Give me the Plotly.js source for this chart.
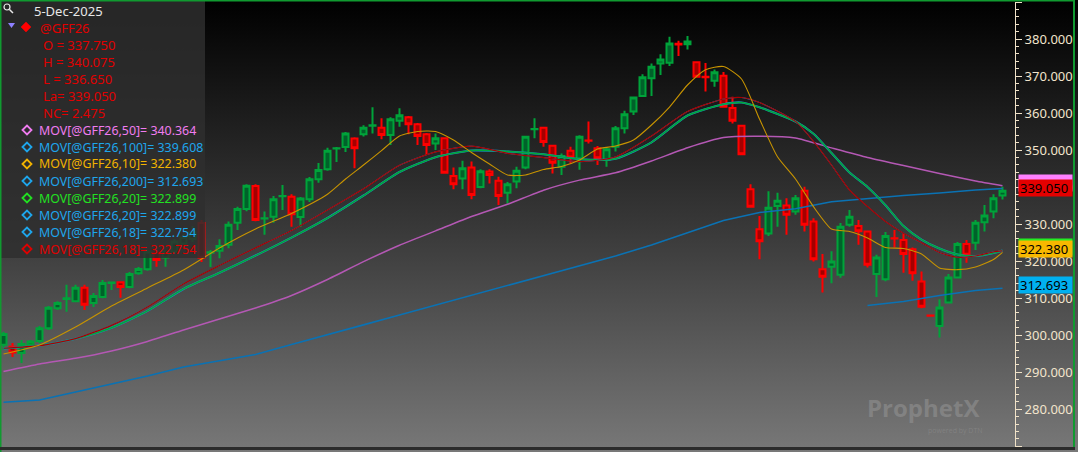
<!DOCTYPE html>
<html><head><meta charset="utf-8">
<script src="https://cdn.plot.ly/plotly-3.0.1.min.js"></script>
<style>
html,body{margin:0;padding:0;width:1078px;height:452px;overflow:hidden;background:linear-gradient(to bottom,#000000 0%,#383838 50%,#787878 100%);}
#chart{width:1078px;height:452px;}
</style></head><body><div id="chart"></div>
<script>
// ---- OHLC data (@GFF26, daily) ----
const open  = [297.4,296.9,295.2,297.4,298.4,301.9,307.3,309.8,309.2,312.8,308.7,310.3,314.1,314.3,313.0,316.7,317.8,322.3,321.0,322.6,324.8,326.0,330.3,322.3,322.8,324.4,330.4,334.1,340.3,331.5,332.0,337.5,337.4,331.9,336.7,342.1,344.8,350.4,350.8,353.1,354.3,356.6,356.0,354.1,357.9,358.9,357.0,354.3,351.8,353.2,343.0,342.3,345.3,340.0,344.2,341.7,338.5,341.5,345.3,355.6,356.0,351.2,345.5,349.8,347.7,352.6,350.5,347.3,350.9,355.9,360.4,364.6,369.4,373.4,373.6,378.7,378.6,373.7,369.8,368.7,370.1,361.4,356.6,339.4,328.6,327.5,334.9,335.0,333.4,339.0,330.7,317.8,318.5,316.3,329.8,329.5,328.0,316.5,315.1,326.2,325.7,323.2,314.5,305.3,302.5,308.8,315.6,324.6,325.0,330.5,333.4,337.75];
const high  = [300.9,297.9,298.7,298.7,302.5,307.9,309.2,313.6,313.6,313.6,311.4,314.9,314.4,314.6,317.1,318.4,323.0,322.7,323.0,326.0,327.5,329.5,331.1,323.0,325.9,330.7,334.7,340.8,340.8,333.4,337.6,340.6,338.1,337.3,342.7,346.5,350.6,350.8,354.9,353.5,356.7,361.6,358.6,358.9,361.3,359.2,357.3,354.6,354.5,353.5,345.3,347.1,346.9,344.8,344.8,342.8,341.4,345.5,353.8,358.6,356.3,351.4,349.1,350.9,354.0,357.7,351.1,350.8,356.5,360.6,364.3,370.5,373.4,375.9,380.6,379.5,380.8,373.8,373.5,371.8,371.1,364.4,356.8,340.8,332.2,338.9,338.5,337.0,337.9,340.1,331.6,321.9,322.7,330.3,333.8,331.1,328.2,321.7,327.9,328.4,327.5,323.7,317.2,305.35,309.7,316.5,325.2,325.7,331.1,335.2,338.1,340.075];
const low   = [296.0,294.1,292.5,296.8,297.9,301.4,306.8,306.3,309.0,306.8,307.6,310.0,312.2,310.1,312.7,316.3,317.4,318.5,318.5,322.2,324.2,325.2,319.8,318.4,320.8,323.5,328.4,333.5,330.8,327.1,330.4,333.8,329.3,329.2,336.0,341.2,344.4,346.8,349.5,345.1,353.7,354.5,352.9,351.4,356.3,354.3,351.4,348.7,350.0,343.6,339.4,339.4,336.7,339.7,341.0,335.2,335.6,339.7,344.8,353.2,350.9,343.7,343.3,346.4,344.7,351.8,346.0,345.5,349.6,354.5,359.5,364.6,364.6,370.3,372.7,375.4,377.2,369.7,365.8,367.1,361.6,357.2,348.7,334.6,320.5,326.8,329.3,327.1,332.5,328.0,319.9,311.5,314.0,315.5,329.3,324.4,318.3,310.3,314.6,323.7,316.9,314.7,307.3,305.2,299.4,308.6,315.4,319.6,323.0,328.0,331.6,336.65];
const close = [300.3,295.3,297.6,298.3,301.9,307.4,308.7,310.0,312.8,308.2,310.6,314.1,314.2,313.0,316.5,317.9,322.6,320.3,322.6,325.3,326.5,327.8,320.9,322.4,324.1,329.8,334.1,340.4,331.1,331.6,336.7,337.6,332.7,336.9,342.1,344.6,349.8,350.5,354.5,350.5,356.0,356.7,354.1,358.3,359.4,357.0,353.8,351.4,353.2,343.9,340.8,345.1,337.9,344.3,343.3,337.6,340.8,344.4,353.6,355.7,352.2,346.6,348.4,348.0,353.6,352.5,347.8,350.2,355.9,359.7,364.2,369.7,372.5,374.5,378.8,378.5,379.3,369.8,369.7,371.0,361.7,357.9,348.9,334.7,325.4,334.4,336.3,332.5,337.0,329.8,320.5,315.8,319.9,329.3,332.0,328.1,319.0,321.0,326.8,326.1,321.9,316.7,307.7,305.25,307.5,315.6,324.6,321.7,330.4,332.3,337.0,339.05];
const netChange = 2.475;

// ---- Moving averages (bar index, value) ----
const ma10Idx = [0,4,8,12,16,20,24,28,32,36,38,40,42,44,46,48,50,52,54,56,58,60,62,64,66,68,70,72,74,76,78,80,82,84,86,88,90,92,94,96,98,100,102,104,106,108,110,111];
const ma10 = [294.93,297.37,302.22,307.90,312.76,317.62,323.56,328.69,332.88,338.08,342.19,345.97,349.86,353.80,355.02,355.02,352.72,349.35,346.24,343.27,343.27,344.76,345.57,347.32,350.29,351.10,352.72,356.77,361.63,367.58,371.71,372.57,369.20,358.39,348.19,342.19,334.71,328.69,328.02,326.26,323.69,323.42,321.94,318.16,317.70,318.43,320.45,322.380];
const ma18Idx = [0,4,8,12,16,20,24,28,32,36,40,44,48,52,56,60,64,68,72,76,80,82,84,88,90,92,94,96,98,100,102,104,106,108,110,111];
const ma18 = [296.47,297.17,299.06,302.66,307.62,313.84,318.83,323.58,328.26,333.82,339.54,345.89,349.51,351.05,349.13,347.98,346.86,348.13,353.80,360.42,363.79,364.20,362.85,357.75,352.35,345.97,339.22,334.77,330.72,327.53,324.96,322.32,321.05,321.40,322.48,322.754];
const ma20 = [296.42,297.23,299.06,302.01,306.55,312.49,316.86,321.51,326.37,331.66,337.73,344.08,348.08,349.89,349.62,348.86,347.54,347.67,352.10,359.34,362.39,362.85,361.55,357.72,354.40,349.21,343.95,340.03,335.09,329.47,325.83,323.42,321.80,321.40,322.21,322.899];
const slowIdx = [0,4,8,12,16,20,24,28,32,36,40,44,48,52,56,60,64,68,72,76,80,84,88,92,96,100,104,108,111];
const ma50 = [290.21,292.23,293.77,295.74,298.31,301.41,304.38,307.36,310.73,315.05,319.86,324.31,328.17,332.07,335.36,339.17,341.89,343.86,347.05,350.64,353.40,353.75,353.26,350.59,348.00,345.84,343.68,341.65,340.364];
const ma100 = [281.89,282.51,284.67,286.83,288.99,291.42,293.04,294.80,297.47,300.06,302.79,305.47,308.11,310.78,313.43,316.10,318.75,321.40,324.37,327.75,330.99,333.14,334.17,336.06,336.93,337.73,338.41,339.22,339.608];
const ma200Idx = [96,100,104,108,111];
const ma200 = [308.03,309.11,310.73,312.08,312.693];

const bar = open.map((_, i) => i);
const last = open.length - 1;

const RED = '#e00000', PINK = '#f07cf0', BLUE = '#1ea6ec', ORANGE = '#f2b300', GREEN = '#22e022';
const FONT = 'Noto Sans, sans-serif';

const traces = [
  {type:'scatter', mode:'lines', x:slowIdx, y:ma100, line:{color:'#0a72b4', width:1.6}, hoverinfo:'skip'},
  {type:'scatter', mode:'lines', x:ma200Idx, y:ma200, line:{color:'#0a72b4', width:1.6}, hoverinfo:'skip'},
  {type:'scatter', mode:'lines', x:slowIdx, y:ma50, line:{color:'#b458b4', width:1.5, shape:'spline', smoothing:0.5}, hoverinfo:'skip'},
  {type:'scatter', mode:'lines', x:ma18Idx, y:ma20, line:{color:'#1a8ad0', width:2.1, shape:'spline', smoothing:0.6}, hoverinfo:'skip'},
  {type:'scatter', mode:'lines', x:ma18Idx, y:ma20, line:{color:'#00a838', width:1.5, shape:'spline', smoothing:0.6}, hoverinfo:'skip'},
  {type:'scatter', mode:'lines', x:ma18Idx, y:ma18, line:{color:'#1a8ad0', width:1, shape:'spline', smoothing:0.6}, hoverinfo:'skip'},
  {type:'scatter', mode:'lines', x:ma18Idx, y:ma18, line:{color:'#a80000', width:1.2, shape:'spline', smoothing:0.6}, hoverinfo:'skip'},
  {type:'scatter', mode:'lines', x:ma10Idx, y:ma10, line:{color:'#c89400', width:1.1, shape:'spline', smoothing:0.6}, hoverinfo:'skip'},
  {type:'candlestick', x:bar, open:open, high:high, low:low, close:close,
   increasing:{line:{color:'#00a33a', width:2}, fillcolor:'#00622a'},
   decreasing:{line:{color:'#ff0000', width:2}, fillcolor:'#a40000'},
   whiskerwidth:0, hoverinfo:'skip'}
];

// pixel helpers (plot area: x 0..1015, y 2..447)
const PW = 1015, PT = 2, PH = 445;
const px = x => x / PW;
const py = y => 1 - (y - PT) / PH;

const annotations = [];
const shapes = [];
function txt(x, y, text, color, size, extra) {
  annotations.push(Object.assign({xref:'paper', yref:'paper', x:px(x), y:py(y), xanchor:'left', yanchor:'middle',
    text:text, showarrow:false, font:{family:FONT, size:size||13, color:color}}, extra||{}));
}
function diamond(cx, cy, r, color, filled) {
  const p = `M ${px(cx-r)} ${py(cy)} L ${px(cx)} ${py(cy-r)} L ${px(cx+r)} ${py(cy)} L ${px(cx)} ${py(cy+r)} Z`;
  shapes.push({type:'path', xref:'paper', yref:'paper', path:p, layer:'above',
    line:{color:color, width:filled?0.5:1.8}, fillcolor: filled ? color : 'rgba(0,0,0,0)'});
}

// legend panel
shapes.push({type:'rect', xref:'paper', yref:'paper', x0:px(-2), x1:px(205), y0:py(258), y1:py(-1), layer:'above',
  line:{width:0}, fillcolor:'rgba(46,46,46,0.84)'});
// magnifier icon
shapes.push({type:'circle', xref:'paper', yref:'paper', x0:px(4), x1:px(10), y0:py(10), y1:py(4), layer:'above', line:{color:'#e8e8e8', width:1.2}});
shapes.push({type:'line', xref:'paper', yref:'paper', x0:px(9.5), x1:px(13), y0:py(9.5), y1:py(13), layer:'above', line:{color:'#e8e8e8', width:1.5}});
// triangle
shapes.push({type:'path', xref:'paper', yref:'paper', layer:'above', line:{width:0}, fillcolor:'#8e80ff',
  path:`M ${px(8)} ${py(23)} L ${px(15)} ${py(23)} L ${px(11.5)} ${py(28)} Z`});
diamond(26, 27, 5, '#ff0000', true);

const fmt = v => v.toFixed(3);
txt(32, 11, '5-Dec-2025', '#e8e8e8', 13);
txt(38, 28, '@GFF26', RED, 13);
txt(41, 45, 'O = ' + fmt(open[last]), RED, 13);
txt(41, 62, 'H = ' + fmt(high[last]), RED, 13);
txt(41, 79, 'L = ' + fmt(low[last]), RED, 13);
txt(41, 96, 'La= ' + fmt(close[last]), RED, 13);
txt(41, 113, 'NC= ' + fmt(netChange), RED, 13);

const maLegend = [
  ['MOV[@GFF26,50]= ', ma50[ma50.length-1], PINK],
  ['MOV[@GFF26,100]= ', ma100[ma100.length-1], BLUE],
  ['MOV[@GFF26,10]= ', ma10[ma10.length-1], ORANGE],
  ['MOV[@GFF26,200]= ', ma200[ma200.length-1], BLUE],
  ['MOV[@GFF26,20]= ', ma20[ma20.length-1], GREEN],
  ['MOV[@GFF26,20]= ', ma20[ma20.length-1], BLUE],
  ['MOV[@GFF26,18]= ', ma18[ma18.length-1], BLUE],
  ['MOV[@GFF26,18]= ', ma18[ma18.length-1], RED]
];
maLegend.forEach((m, k) => {
  const y = 130 + 17 * k;
  diamond(27, y, 4.5, m[2], false);
  txt(37, y, m[0] + fmt(m[1]), m[2], 12.4);
});

// right-axis value tags
function tag(value, bg, label) {
  annotations.push({xref:'paper', yref:'y', x:px(1018), y:value, yshift:3, xanchor:'left', yanchor:'middle',
    text:label, showarrow:false, bgcolor:bg, width:51, height:14, borderpad:1, align:'left',
    font:{family:FONT, size:13, color:'#000000'}});
}
tag(ma50[ma50.length-1], '#ff80ff', '');
tag(close[last], '#e40000', fmt(close[last]));
tag(ma20[ma20.length-1], '#22ee22', '');
tag(ma10[ma10.length-1], '#f7b800', fmt(ma10[ma10.length-1]));
tag(ma200[ma200.length-1], '#00b0f0', fmt(ma200[ma200.length-1]));

// watermark
annotations.push({xref:'paper', yref:'paper', x:px(923), y:py(407), xanchor:'center', yanchor:'middle', showarrow:false,
  text:'<b>ProphetX</b>', font:{family:'Open Sans, sans-serif', size:24, color:'rgba(150,150,150,0.55)'}});
annotations.push({xref:'paper', yref:'paper', x:px(955), y:py(430), xanchor:'center', yanchor:'middle', showarrow:false,
  text:'powered by DTN', font:{family:'Open Sans, sans-serif', size:7, color:'rgba(140,140,140,0.6)'}});

// frame
shapes.push({type:'rect', xref:'paper', yref:'paper', x0:px(-1), x1:px(1.5), y0:py(452), y1:py(-1), layer:'above', line:{width:0}, fillcolor:'#109a30'});
shapes.push({type:'rect', xref:'paper', yref:'paper', x0:px(-1), x1:px(1075), y0:py(1.5), y1:py(-1), layer:'above', line:{width:0}, fillcolor:'#109a30'});
shapes.push({type:'rect', xref:'paper', yref:'paper', x0:px(1073), x1:px(1075), y0:py(447), y1:py(-1), layer:'above', line:{width:0}, fillcolor:'#109a30'});
shapes.push({type:'rect', xref:'paper', yref:'paper', x0:px(0), x1:px(1075), y0:py(450), y1:py(447), layer:'above', line:{width:0}, fillcolor:'#2c2c2c'});

const AX = '#f0e2c8';
const layout = {
  width:1078, height:452,
  margin:{l:0, r:63, t:2, b:5, pad:0},
  paper_bgcolor:'rgba(0,0,0,0)', plot_bgcolor:'rgba(0,0,0,0)',
  showlegend:false, dragmode:false, boxgap:0.05, boxgroupgap:0.3,
  xaxis:{range:[-0.39, 112.39], visible:false, rangeslider:{visible:false}, fixedrange:true, showgrid:false, zeroline:false},
  yaxis:{side:'right', range:[269.8, 390], dtick:10, tick0:0, tickformat:'.3f', showgrid:false, zeroline:false,
    showline:true, linecolor:AX, linewidth:1, ticks:'outside', ticklen:6, tickcolor:AX, tickwidth:1,
    tickfont:{family:FONT, size:13, color:'#f2e4cc'}, automargin:false, fixedrange:true,
    minor:{dtick:2, ticks:'outside', ticklen:3, tickcolor:AX, showgrid:false}},
  shapes:shapes, annotations:annotations
};
Plotly.newPlot('chart', traces, layout, {displayModeBar:false, staticPlot:true});
</script></body></html>
